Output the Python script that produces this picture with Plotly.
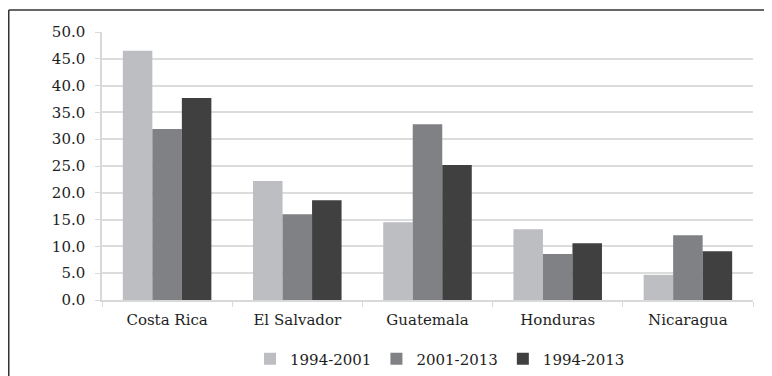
import plotly.graph_objects as go

categories = ["Costa Rica", "El Salvador", "Guatemala", "Honduras", "Nicaragua"]
series_names = ["1994-2001", "2001-2013", "1994-2013"]
v_1994_2001 = [46.5, 22.2, 14.5, 13.2, 4.7]
v_2001_2013 = [31.9, 16.0, 32.8, 8.6, 12.1]
v_1994_2013 = [37.7, 18.6, 25.2, 10.6, 9.1]
colors = ["#BDBEC2", "#808185", "#404040"]
y_ticks = [0, 5, 10, 15, 20, 25, 30, 35, 40, 45, 50]
y_tick_labels = [f"{t:.1f}" for t in y_ticks]

# page body has an 8px default margin, so the figure is sized/offset accordingly
OFF = 8
W, H = 772 - OFF, 376 - OFF
L, T = 102 - OFF, 32 - OFF
R = W - (753 - OFF)
B = H - (300 - OFF)
pw, ph = W - L - R, H - T - B

font = "DejaVu Serif, Liberation Serif, serif"
txt = "#1E1E1E"
fig = go.Figure()
for name, vals, c in zip(series_names, [v_1994_2001, v_2001_2013, v_1994_2013], colors):
    fig.add_trace(go.Bar(x=categories, y=vals, name=name, marker=dict(color=c, line=dict(width=0))))

def px_x(x):
    return (x - OFF - L) / pw

def px_y(y):
    return (H - B - (y - OFF)) / ph

fig.update_layout(
    width=W, height=H,
    margin=dict(l=L, r=R, t=T, b=B, autoexpand=False),
    paper_bgcolor="white", plot_bgcolor="white",
    barmode="group", bargap=0.32, bargroupgap=0,
    font=dict(family=font, size=15, color=txt),
    showlegend=True,
    legend=dict(orientation="h", x=px_x(440), xanchor="center", y=px_y(359), yanchor="middle",
                font=dict(family=font, size=15, color=txt),
                itemwidth=30, tracegroupgap=0),
    xaxis=dict(showline=True, linecolor="#D9D9D9", linewidth=1.5, ticks="outside",
               ticklen=5, tickcolor="#D9D9D9", tickson="boundaries", ticklabelstandoff=5,
               tickfont=dict(family=font, size=15, color=txt), fixedrange=True, automargin=False),
    yaxis=dict(range=[0, 50], tickvals=y_ticks, ticktext=y_tick_labels,
               showgrid=True, gridcolor="#DCDCDC", gridwidth=1.5,
               showline=True, linecolor="#D9D9D9", linewidth=1.5,
               ticks="outside", ticklen=5, tickcolor="#D9D9D9", ticklabelstandoff=7,
               zeroline=False, tickfont=dict(family=font, size=15, color=txt),
               fixedrange=True, automargin=False),
)
fig.add_shape(type="line", xref="paper", yref="paper", x0=px_x(8.75), x1=px_x(772), y0=px_y(10), y1=px_y(10),
              line=dict(color="#333333", width=1.5))
fig.add_shape(type="line", xref="paper", yref="paper", x0=px_x(8.75), x1=px_x(8.75), y0=px_y(10), y1=px_y(376),
              line=dict(color="#333333", width=1.5))
fig.write_html("out.html")
